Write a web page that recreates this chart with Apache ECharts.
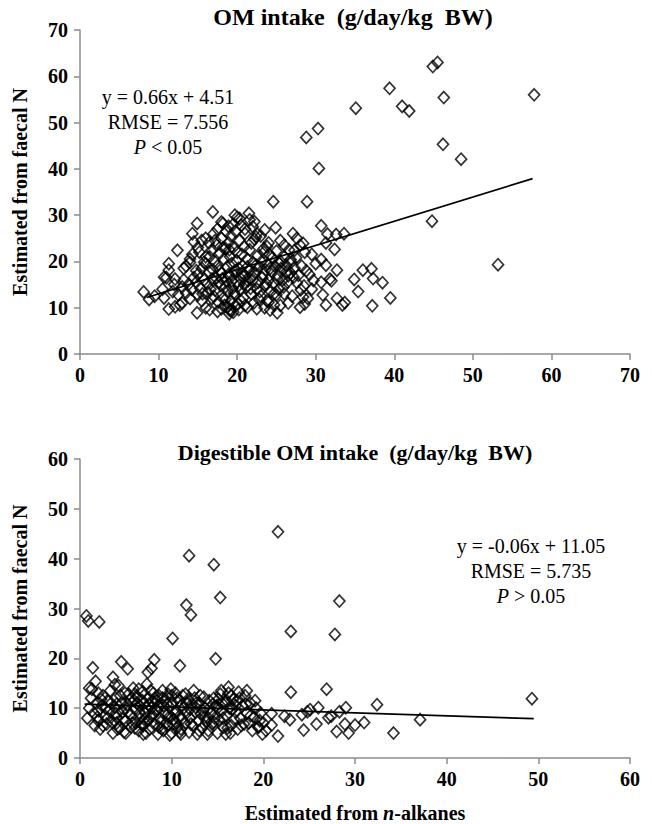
<!DOCTYPE html>
<html>
<head>
<meta charset="utf-8">
<script src="https://cdn.jsdelivr.net/npm/echarts@6/dist/echarts.min.js"></script>
<style>html,body{margin:0;padding:0;background:#fff}#c{width:652px;height:824px}</style>
</head>
<body>
<div id="c"></div>
<script>
// ---------- data ----------
const topTitle = 'OM intake  (g/day/kg  BW)';
const bottomTitle = 'Digestible OM intake  (g/day/kg  BW)';
const yName = 'Estimated from faecal N';
const topXTicks = [0, 70, 10];   // min, max, interval
const topYTicks = [0, 70, 10];
const botXTicks = [0, 60, 10];
const botYTicks = [0, 60, 10];

const topOutliers = [
  [44.9,62.1],[45.5,63.0],[39.4,57.4],[35.1,53.1],[41.0,53.5],[41.9,52.5],[46.3,55.4],[57.8,56.0],
  [28.8,46.8],[30.3,48.7],[30.4,40.1],[46.2,45.3],[48.5,42.1],[24.6,32.9],[28.9,32.9],[44.8,28.7],
  [53.2,19.3],[39.5,12.1],[38.5,15.4],[37.2,10.4],[37.1,18.4],[37.3,16.3],[36.0,18.1],[35.4,13.5],
  [34.9,16.1],[33.6,26.0],[32.6,25.8],[31.5,25.9],[30.7,27.7],[31.3,24.0],[32.4,22.6],[32.7,18.1],
  [31.3,19.2],[30.7,20.4],[30.0,19.5],[30.7,15.5],[30.9,12.8],[31.3,10.6],[31.8,16.2],[32.0,15.8],
  [33.4,10.6],[33.7,11.1],[32.7,12.0],[29.7,15.9],[27.1,26.0],[27.6,25.0],[28.0,23.5],[28.4,23.9],
  [27.3,22.4],[26.8,20.4],[26.5,16.9],[27.2,16.6],[27.6,15.4],[28.1,13.9],[28.5,14.7],[28.4,12.3],
  [28.0,10.1],[28.6,10.8],[24.9,27.3],[21.3,10.1],[24.2,9.5],[25.1,8.9],[24.7,10.6]
];
const topLeft = [
  [8.1,13.4],[8.8,11.8],[10.7,12.1],[11.3,9.7],[12.1,10.2],[12.7,10.6],[10.7,16.6],[11.3,19.5],
  [11.3,18.1],[12.4,22.4],[12.1,16.2],[13.2,18.5],[14.0,19.8],[14.3,26.0],[14.9,28.2],[14.5,24.2],
  [15.0,12.7],[14.9,8.9],[16.5,9.6],[16.9,30.7],[18.2,28.2],[18.9,27.6],[19.7,30.0],[20.3,29.3],
  [21.5,30.4],[22.2,28.6],[22.4,25.3],[23.4,22.8],[19.0,8.7],[19.2,9.4]
];
const topCluster = [
  [13.0,14.5],[13.5,13.2],[13.8,15.0],[14.2,14.0],[14.5,16.5],[14.8,15.5],[15.0,17.2],[15.3,14.2],
  [15.5,18.5],[15.6,13.0],[15.8,16.0],[16.0,19.5],[16.2,15.2],[16.4,17.8],[16.5,21.0],[16.6,14.0],
  [16.8,22.5],[16.9,18.2],[17.0,12.5],[17.1,20.0],[17.3,16.5],[17.4,23.5],[17.5,19.0],[17.6,11.2],
  [17.8,21.8],[17.9,14.8],[18.0,25.0],[18.0,17.5],[18.2,12.0],[18.3,20.5],[18.4,10.5],[18.5,22.8],
  [18.6,15.8],[18.7,18.8],[18.8,13.5],[18.9,24.0],[19.0,9.5],[19.0,16.8],[19.1,21.0],[19.2,11.5],
  [19.3,19.5],[19.4,14.2],[19.5,23.0],[19.6,17.8],[19.7,12.8],[19.8,26.5],[19.9,20.2],[20.0,15.5],
  [20.0,22.0],[20.1,10.8],[20.2,18.5],[20.3,24.5],[20.4,13.8],[20.5,16.2],[20.6,21.5],[20.7,19.0],
  [20.8,12.2],[20.9,23.2],[21.0,17.0],[21.0,27.0],[21.2,14.5],[21.3,20.5],[21.4,15.8],[21.5,18.0],
  [21.6,22.5],[21.8,13.0],[21.9,16.8],[22.0,19.8],[22.1,11.0],[22.2,24.8],[22.3,17.5],[22.5,14.0],
  [22.6,21.2],[22.7,15.5],[22.8,18.8],[23.0,12.5],[23.1,20.0],[23.2,16.5],[23.4,22.0],[23.5,14.8],
  [23.6,18.2],[23.8,11.5],[23.9,19.5],[24.0,16.0],[24.1,21.5],[24.3,13.5],[24.4,17.8],[24.5,20.8],
  [24.6,15.2],[24.8,19.0],[25.0,12.8],[25.0,22.2],[25.2,17.0],[25.3,14.0],[25.5,20.0],[25.6,18.5],
  [25.8,16.0],[26.0,21.0],[26.0,13.0],[26.2,19.2],[26.4,15.5],[26.6,22.5],[26.8,17.5],
  [13.5,19.0],[14.0,20.5],[14.3,21.5],[15.2,22.0],[15.5,24.5],[15.0,23.0],[16.0,25.0],[16.4,24.0],
  [17.0,26.0],[17.5,27.0],[18.0,28.5],[18.6,26.5],[19.2,25.5],[19.5,28.0],[20.0,29.5],[20.5,27.8],
  [21.0,26.0],[21.6,29.0],[22.0,27.5],[23.0,25.5],[23.5,26.8],[22.5,26.0],[24.0,24.0],[25.5,24.5],
  [15.5,11.5],[16.0,10.0],[16.8,12.0],[17.5,9.2],[18.0,9.8],[18.8,10.2],[19.5,9.0],[20.2,9.6],
  [21.0,10.5],[22.5,9.8],[23.5,10.0],[13.0,11.0],[14.0,12.0],[12.5,12.8],[11.8,13.5],[12.0,15.0],
  [13.2,16.0],[11.0,16.5],[10.5,14.0],[9.5,12.5],
  [17.2,13.8],[17.7,15.5],[18.1,16.2],[18.5,14.5],[18.9,17.2],[19.3,15.8],[19.6,13.2],[19.9,18.0],
  [20.2,14.8],[20.6,17.5],[20.9,15.0],[21.3,18.8],[21.7,14.2],[22.0,16.0],[22.4,19.2],[22.9,13.5],
  [23.3,17.2],[23.7,15.2],[24.2,18.5],[24.7,13.0],[25.1,16.2],[25.4,19.5],[25.9,14.5],[26.3,17.8],
  [26.9,19.8],[27.3,18.5],[27.8,17.0],[28.2,19.0],[28.8,18.0],[29.2,17.2],[29.5,14.0],[29.0,12.0],
  [27.0,12.5],[26.5,11.0],[25.5,10.5],[24.0,11.2],[22.8,11.8],[20.5,11.5],[19.8,10.5],[18.5,11.8],
  [16.3,13.2],[17.8,18.0],[16.8,16.2],[15.8,19.8],[14.8,18.0],[16.0,21.0],[17.2,24.5],[18.2,23.0],
  [19.0,22.5],[21.8,24.0],[23.8,23.2],[26.0,23.5],[27.5,20.8],[29.5,21.5],[28.6,22.0]
];
const topFit = [[8.5,12.2],[57.6,37.9]];

const bottomOutliers = [
  [0.7,28.5],[0.9,27.5],[2.1,27.3],[11.6,30.7],[12.1,28.7],[15.3,32.2],[10.1,24.0],[23.0,25.4],
  [27.8,24.8],[28.3,31.5],[14.8,19.9],[10.9,18.5],[1.4,18.1],[4.5,19.3],[5.2,17.9],[7.4,17.2],
  [7.8,18.0],[8.1,19.7],[3.6,16.2],[3.8,14.7],[1.7,15.4],[1.0,14.0],[16.2,14.2],[18.2,13.5],
  [23.0,13.2],[26.9,13.8],[32.4,10.7],[37.1,7.7],[34.2,5.0],[49.3,11.9],[29.3,5.0],[28.0,5.3],
  [31.0,7.1],[30.0,6.6],[28.9,6.8],[29.0,10.1],[28.3,9.3],[21.6,4.4],[24.4,5.6],[25.8,6.8],
  [26.0,10.1],[22.3,8.4],[22.9,7.7],[24.2,8.7],[24.8,9.3],[25.1,9.7],[27.1,8.1],[27.4,8.4],
  [20.9,8.9],[20.9,6.6],[19.9,4.8],[19.5,6.2],[11.9,40.6],[14.6,38.8],[21.6,45.4]
];
const bottomCluster = [
  [0.8,8.0],[1.0,10.0],[1.2,12.0],[1.5,9.0],[1.6,6.5],[1.8,11.0],[2.0,13.0],[2.0,7.5],[2.2,5.8],
  [2.4,10.5],[2.5,12.5],[2.7,8.5],[2.9,6.8],[3.0,11.5],[3.2,9.5],[3.3,13.5],[3.5,7.2],[3.6,5.0],
  [3.8,10.2],[3.9,12.0],[4.0,8.2],[4.2,14.5],[4.3,6.0],[4.5,11.0],[4.6,9.2],[4.8,5.2],[4.9,13.0],
  [5.0,7.5],[5.2,10.8],[5.3,12.8],[5.5,8.8],[5.6,6.2],[5.8,14.0],[5.9,11.5],[6.0,9.8],[6.1,7.0],
  [6.3,12.2],[6.4,5.5],[6.5,10.5],[6.6,8.0],[6.8,13.2],[6.9,6.5],[7.0,11.0],[7.1,9.0],[7.3,14.8],
  [7.4,7.5],[7.5,12.0],[7.6,5.8],[7.8,10.0],[7.9,8.5],[8.0,13.0],[8.1,6.8],[8.3,11.5],[8.4,9.5],
  [8.5,4.8],[8.6,12.5],[8.8,7.2],[8.9,10.8],[9.0,13.5],[9.1,5.5],[9.2,9.0],[9.3,11.8],[9.5,6.5],
  [9.6,12.8],[9.7,8.2],[9.8,10.2],[10.0,5.0],[10.1,11.0],[10.2,7.8],[10.4,13.0],[10.5,9.5],
  [10.6,6.0],[10.8,11.5],[10.9,8.5],[11.0,5.8],[11.2,12.5],[11.3,10.0],[11.5,7.0],[11.6,9.0],
  [11.8,11.8],[11.9,5.2],[12.0,8.0],[12.2,10.8],[12.3,6.5],[12.5,12.0],[12.6,9.2],[12.8,4.8],
  [12.9,7.5],[13.0,11.0],[13.2,8.8],[13.3,6.0],[13.5,12.2],[13.6,10.0],[13.8,7.2],[14.0,5.5],
  [14.1,11.5],[14.3,9.0],[14.4,6.8],[14.6,12.0],[14.7,8.0],[14.9,10.5],[15.0,5.0],[15.2,7.5],
  [15.3,12.8],[15.5,9.5],[15.6,6.2],[15.8,11.0],[15.9,4.8],[16.0,8.5],[16.2,13.0],[16.3,10.0],
  [16.5,6.5],[16.7,11.8],[16.8,7.8],[17.0,9.2],[17.2,5.8],[17.4,12.0],[17.5,8.0],[17.7,10.5],
  [17.9,6.8],[18.0,12.5],[18.2,9.0],[18.4,7.0],[18.6,11.0],[18.8,5.5],[19.0,8.2],[19.2,10.0],
  [19.4,6.2],[19.7,9.0],[20.0,7.0],[20.3,5.5],
  [5.0,10.0],[5.5,11.8],[6.0,12.8],[6.5,9.0],[7.0,7.8],[7.5,10.8],[8.0,9.0],[8.5,10.5],[9.0,12.0],
  [9.5,10.8],[10.0,12.5],[10.5,7.0],[11.0,10.5],[11.5,12.8],[12.0,9.8],[3.0,8.0],[4.0,10.8],
  [2.0,9.5],[6.8,11.5],[7.7,13.5],[8.7,8.0],[9.4,7.0],[10.3,9.0],[12.7,11.0],[13.4,9.5],[14.5,10.8],
  [15.5,11.0],[16.0,11.5],[16.5,12.5],[17.0,10.5],[15.0,10.0],[14.0,8.0],[13.0,5.5],[6.0,6.0],
  [5.0,5.0],[7.2,5.0],[9.8,4.6],[11.0,4.8],[4.0,7.0],[2.5,6.5],
  [5.2,9.2],[5.7,7.0],[6.2,11.0],[6.7,6.8],[7.2,10.2],[7.7,8.2],[8.2,12.0],[8.6,6.2],[9.1,10.5],
  [9.6,8.8],[10.1,6.8],[10.6,12.0],[11.1,7.8],[11.6,11.0],[12.1,6.8],[12.6,10.2],[13.1,12.5],
  [13.6,8.2],[14.1,10.0],[14.6,7.2],[15.1,11.8],[15.6,8.0],[16.1,6.0],[16.6,9.8],[17.1,11.5],
  [17.6,6.5],[18.1,10.8],[18.6,8.5],[19.1,11.5],[19.6,7.5],[3.4,11.0],[3.9,9.0],[4.4,12.5],
  [4.7,7.8],[2.8,10.0],[2.3,11.8],[1.3,13.8],[1.9,8.2],[6.4,13.8],[7.9,11.2],[9.9,13.8],[12.4,13.5],
  [15.4,13.5],[17.3,13.2],[8.9,5.8],[10.9,5.2],[13.9,4.8],[16.4,5.0],[6.9,4.8],[4.1,5.8]
];
const bottomFit = [[0.5,10.8],[49.5,7.9]];

const topNote = ['y = 0.66x + 4.51', 'RMSE = 7.556', '< 0.05'];
const bottomNote = ['y = -0.06x + 11.05', 'RMSE = 5.735', '> 0.05'];

// ---------- chart ----------
const FONT = 'Liberation Serif';
const axisGray = '#8c8c8c';
function xAxis(idx, t, name) {
  return {
    type: 'value', gridIndex: idx, min: t[0], max: t[1], interval: t[2],
    axisLine: { show: true, onZero: false, lineStyle: { color: axisGray, width: 1.5 } },
    axisTick: { show: true, length: 6, lineStyle: { color: axisGray, width: 1.5 } },
    splitLine: { show: false },
    axisLabel: { color: '#000', fontFamily: FONT, fontWeight: 'bold', fontSize: 20, margin: 11 },
    name: name || '', nameLocation: 'middle', nameGap: 45,
    nameTextStyle: { color: '#000', fontFamily: FONT, fontWeight: 'bold', fontSize: 20,
      rich: { i: { fontStyle: 'italic', fontWeight: 'bold', fontFamily: FONT, fontSize: 20, color: '#000' },
              b: { fontWeight: 'bold', fontFamily: FONT, fontSize: 20, color: '#000' } } }
  };
}
function yAxis(idx, t) {
  return {
    type: 'value', gridIndex: idx, min: t[0], max: t[1], interval: t[2],
    axisLine: { show: true, onZero: false, lineStyle: { color: axisGray, width: 1.5 } },
    axisTick: { show: true, length: 6, lineStyle: { color: axisGray, width: 1.5 } },
    splitLine: { show: false },
    axisLabel: { color: '#000', fontFamily: FONT, fontWeight: 'bold', fontSize: 20, margin: 12 },
    name: yName, nameLocation: 'middle', nameGap: 50, nameRotate: 90,
    nameTextStyle: { color: '#000', fontFamily: FONT, fontWeight: 'bold', fontSize: 20 }
  };
}
const scatterStyle = {
  type: 'scatter', symbol: 'diamond', symbolSize: [11, 12],
  itemStyle: { color: 'rgba(255,255,255,0)', borderColor: '#000', borderWidth: 1.7 },
  silent: true
};
function lineSeries(i, d) {
  return { type: 'line', xAxisIndex: i, yAxisIndex: i, data: d, showSymbol: false, symbol: 'none',
    lineStyle: { color: '#000', width: 1.7 }, silent: true, z: 3 };
}
function note(lines, cx, top) {
  const rich = { n: { fontFamily: FONT, fontSize: 20, fill: '#000', lineHeight: 25 },
                 i: { fontFamily: FONT, fontSize: 20, fill: '#000', fontStyle: 'italic', lineHeight: 25 } };
  return {
    type: 'text', x: cx, y: top,
    style: {
      text: '{n|' + lines[0] + '}\n{n|' + lines[1] + '}\n{i|P}{n| ' + lines[2] + '}',
      rich: rich, align: 'center', verticalAlign: 'top', fill: '#000', fontFamily: FONT, fontSize: 20
    }
  };
}
function titleText(txt, cx, top, size) {
  return { type: 'text', x: cx, y: top,
    style: { text: txt, align: 'center', verticalAlign: 'top', fill: '#000',
             fontFamily: FONT, fontWeight: 'bold', fontSize: size } };
}

const chart = echarts.init(document.getElementById('c'), null, { renderer: 'svg' });
chart.setOption({
  backgroundColor: '#fff',
  animation: false,
  grid: [
    { left: 80, right: 22, top: 30, height: 324 },
    { left: 80, right: 22, top: 459, height: 301 }
  ],
  xAxis: [xAxis(0, topXTicks), xAxis(1, botXTicks, '{b|Estimated from }{i|n}{b|-alkanes}')],
  yAxis: [yAxis(0, topYTicks), yAxis(1, botYTicks)],
  series: [
    Object.assign({}, scatterStyle, { xAxisIndex: 0, yAxisIndex: 0, data: topCluster }),
    Object.assign({}, scatterStyle, { xAxisIndex: 0, yAxisIndex: 0, data: topLeft }),
    Object.assign({}, scatterStyle, { xAxisIndex: 0, yAxisIndex: 0, data: topOutliers }),
    lineSeries(0, topFit),
    Object.assign({}, scatterStyle, { xAxisIndex: 1, yAxisIndex: 1, data: bottomCluster }),
    Object.assign({}, scatterStyle, { xAxisIndex: 1, yAxisIndex: 1, data: bottomOutliers }),
    lineSeries(1, bottomFit)
  ],
  graphic: [
    titleText(topTitle, 353, 5, 24),
    titleText(bottomTitle, 355, 441, 22),
    note(topNote, 168, 84),
    note(bottomNote, 531, 533)
  ]
});
</script>
</body>
</html>
